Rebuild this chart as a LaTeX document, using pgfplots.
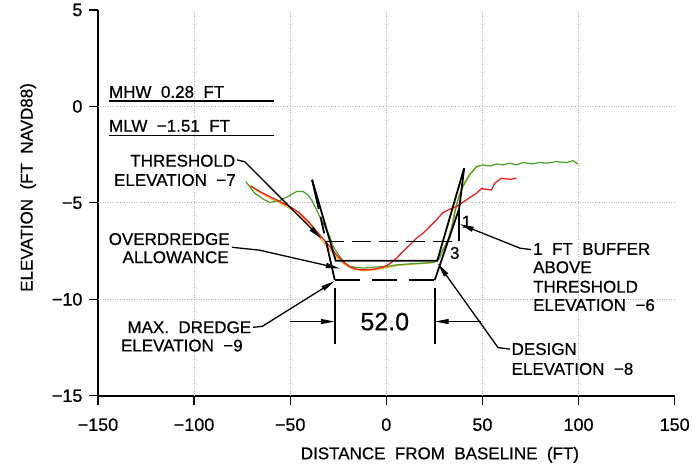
\documentclass[border=0pt]{standalone}
\usepackage{pgfplots}
\pgfplotsset{compat=1.18}
\usepackage{fontspec}
\setmainfont{Liberation Sans}
\newfontfamily\cadfont[FakeBold=0.6]{Liberation Sans}
\usetikzlibrary{arrows.meta}
\definecolor{sgreen}{RGB}{70,160,40}
\definecolor{sred}{RGB}{235,30,30}
\definecolor{syellow}{RGB}{240,175,40}
\newcommand\af{\cadfont\fontsize{17}{20}\selectfont}
\tikzset{lead/.style={black, line width=1.3pt, -{Triangle[length=14pt,width=5pt]}},
  tmpl/.style={black, line width=1.8pt}}
\begin{document}
\begin{tikzpicture}
\begin{axis}[
 scale only axis, width=577pt, height=386pt,
 xmin=-150, xmax=150, ymin=-15, ymax=5,
 axis x line=bottom, axis y line=left,
 axis line style={-, line width=1.8pt},
 xtick={-150,-100,-50,0,50,100,150},
 xticklabels={−150,−100,−50,0,50,100,150},
 ytick={-15,-10,-5,0,5},
 yticklabels={−15,−10,−5,0,5},
 tick align=outside, major tick length=9pt,
 tick style={black, line width=1.2pt},
 ticklabel style={font=\cadfont\fontsize{18}{20}\selectfont},
 xticklabel style={yshift=-10pt},
 yticklabel style={xshift=-3pt},
 extra x ticks={-100,-50,0,50,100}, extra x tick labels={},
 extra x tick style={grid=major, major tick length=0pt},
 extra y ticks={-10,-5,0}, extra y tick labels={},
 extra y tick style={grid=major, major tick length=0pt},
 major grid style={gray!55, dotted, line width=0.9pt},
 xlabel={DISTANCE\ \ FROM\ \ BASELINE\ \ (FT)},
 ylabel={ELEVATION\ \ (FT\ \ NAVD88)},
 label style={font=\af},
 xlabel style={at={(axis description cs:0.593,-0.153)}, anchor=center},
 ylabel style={at={(axis description cs:-0.121,0.54)}, anchor=center},
 clip=false,
]
\path (rel axis cs:-0.1698,-0.1969) rectangle (rel axis cs:1.0312,1.0259);

% survey lines
\addplot[syellow, line width=1.2pt] coordinates {
(-72,-4.05) (-65,-4.5) (-60,-4.78) (-55,-5.03) (-50,-5.3) (-45,-5.65) (-40,-6.15)
(-35,-6.75) (-30,-7.35) (-26,-7.8) (-22,-8.17) (-18,-8.4) (-12,-8.52) (-6,-8.47)
(0,-8.36) (5,-8.26) (12,-8.19) (19,-8.14) (24,-8.1) (26,-8.0) (29,-7.5) (32,-6.9)
(34,-6.2) (35.5,-5.4) (37.5,-4.7) (40,-4.05) (43,-3.55) (46,-3.2) (49,-3.05)};
\addplot[sgreen, line width=1.2pt] coordinates {
(-73.0,-3.90) (-68.4,-4.50) (-64,-4.8) (-60.6,-4.98) (-55.4,-4.88) (-51.1,-4.67)
(-46.7,-4.41) (-43.3,-4.41) (-40.7,-4.59) (-38.9,-4.84) (-36.3,-5.36) (-32.9,-6.05)
(-29.4,-6.74) (-27.7,-7.26) (-24.2,-7.78) (-21.6,-8.12) (-19.0,-8.30) (-12.1,-8.38)
(-6.9,-8.33) (0.1,-8.30) (5.3,-8.21) (12.2,-8.16) (19.1,-8.12) (24.7,-8.09)
(27.5,-7.9) (29.5,-7.44) (33.0,-6.74) (34.7,-6.05) (35.6,-5.53) (37.3,-4.84)
(39.9,-4.15) (43.4,-3.55) (46.9,-3.12) (50.3,-3.03) (53.8,-3.09) (57.3,-2.98)
(60.8,-3.03) (64.2,-2.94) (67.6,-3.03) (71.1,-2.91) (76.3,-2.98) (79.8,-2.90)
(83.3,-2.94) (88.5,-2.86) (93.7,-2.91) (97.1,-2.81) (99.7,-2.98)};
\addplot[sred, line width=1.3pt] coordinates {
(-70.6,-4.12) (-65.8,-4.41) (-60.6,-4.67) (-55.4,-4.93) (-50.2,-5.19) (-45.0,-5.53)
(-39.8,-6.05) (-34.6,-6.66) (-29.4,-7.26) (-25.9,-7.69) (-22.5,-8.04) (-19.0,-8.30)
(-15.5,-8.44) (-12.1,-8.47) (-6.9,-8.44) (-1.7,-8.33) (1.8,-8.16) (5.3,-7.87)
(8.7,-7.52) (12.2,-7.18) (15.7,-6.83) (19.1,-6.57) (22.6,-6.23) (26.1,-5.88)
(29.5,-5.50) (33.0,-5.33) (36.5,-5.19) (41.7,-4.84) (46.9,-4.50) (49.5,-4.26)
(54.7,-4.33) (56.4,-3.98) (59.9,-3.72) (64.2,-3.78) (67.7,-3.72)};

% tide lines
\addplot[black, line width=1.3pt] coordinates {(-144.3,0.28) (-58.5,0.28)};
\addplot[black, line width=1.3pt] coordinates {(-144.3,-1.51) (-58.5,-1.51)};

% design template
\addplot[tmpl] coordinates {(-38.6,-3.8) (-26.3,-8) (26.5,-8) (40.5,-3.2)};
\addplot[tmpl, dash pattern=on 30pt off 8pt on 17pt off 8pt on 60pt] coordinates {(-38.6,-3.8) (-26.8,-9)};
\addplot[tmpl, dash pattern=on 25pt off 12pt] coordinates {(-26.8,-9) (25.2,-9)};
\addplot[tmpl] coordinates {(25.2,-9) (37.9,-5.3) (40.5,-3.2)};
\addplot[tmpl] coordinates {(37.9,-5.3) (37.9,-7.0)};
\addplot[tmpl, dash pattern=on 19pt off 8pt] coordinates {(-32,-7) (37.9,-7)};

% dimension
\addplot[tmpl] coordinates {(-26.8,-9.4) (-26.8,-12.3)};
\addplot[tmpl] coordinates {(25.2,-9.4) (25.2,-12.3)};
\draw[lead] (axis cs:-50,-11.15) -- (axis cs:-26.8,-11.15);
\draw[lead] (axis cs:49.5,-11.15) -- (axis cs:25.2,-11.15);
\node[anchor=base, font=\cadfont\fontsize{25}{28}\selectfont] at (axis cs:-0.8,-11.6) {52.0};
\node[anchor=base, font=\af] at (axis cs:41.7,-6.28) {1};
\node[anchor=base, font=\af] at (axis cs:35.6,-7.9) {3};

% texts
\node[anchor=base west, font=\af, inner sep=0pt] at (axis cs:-144.3,0.45) {MHW\ \ 0.28\ \ FT};
\node[anchor=base west, font=\af, inner sep=0pt] at (axis cs:-144.3,-1.31) {MLW\ \ −1.51\ \ FT};
\node[anchor=base east, font=\af, inner sep=0pt] at (axis cs:-78.5,-3.12) {THRESHOLD};
\node[anchor=base east, font=\af, inner sep=0pt] at (axis cs:-78.2,-4.12) {ELEVATION\ \ −7};
\node[anchor=base east, font=\af, inner sep=0pt] at (axis cs:-81.4,-7.18) {OVERDREDGE};
\node[anchor=base east, font=\af, inner sep=0pt] at (axis cs:-81.9,-8.12) {ALLOWANCE};
\node[anchor=base east, font=\af, inner sep=0pt] at (axis cs:-70.2,-11.75) {MAX.\ \ DREDGE};
\node[anchor=base east, font=\af, inner sep=0pt] at (axis cs:-74.6,-12.7) {ELEVATION\ \ −9};
\node[anchor=base west, font=\af, inner sep=0pt] at (axis cs:76.3,-7.69) {1\ \ FT\ \ BUFFER};
\node[anchor=base west, font=\af, inner sep=0pt] at (axis cs:76.3,-8.64) {ABOVE};
\node[anchor=base west, font=\af, inner sep=0pt] at (axis cs:76.3,-9.65) {THRESHOLD};
\node[anchor=base west, font=\af, inner sep=0pt] at (axis cs:76.3,-10.6) {ELEVATION\ \ −6};
\node[anchor=base west, font=\af, inner sep=0pt] at (axis cs:65.1,-12.88) {DESIGN};
\node[anchor=base west, font=\af, inner sep=0pt] at (axis cs:65.1,-13.91) {ELEVATION\ \ −8};

% leaders
\draw[lead] (axis cs:-77.6,-2.77) -- (axis cs:-73.6,-2.87) -- (axis cs:-33.8,-6.85);
\draw[lead] (axis cs:-80.3,-7.3) -- (axis cs:-66,-7.45) -- (axis cs:-24.2,-8.4);
\draw[lead] (axis cs:-69.3,-11.45) -- (axis cs:-64.5,-11.4) -- (axis cs:-26.8,-9.05);
\draw[lead] (axis cs:75.3,-7.42) -- (axis cs:69.6,-7.35) -- (axis cs:38.3,-6.1);
\draw[lead] (axis cs:64.3,-12.58) -- (axis cs:58.1,-12.5) -- (axis cs:26.9,-8.15);
\end{axis}
\end{tikzpicture}
\end{document}
